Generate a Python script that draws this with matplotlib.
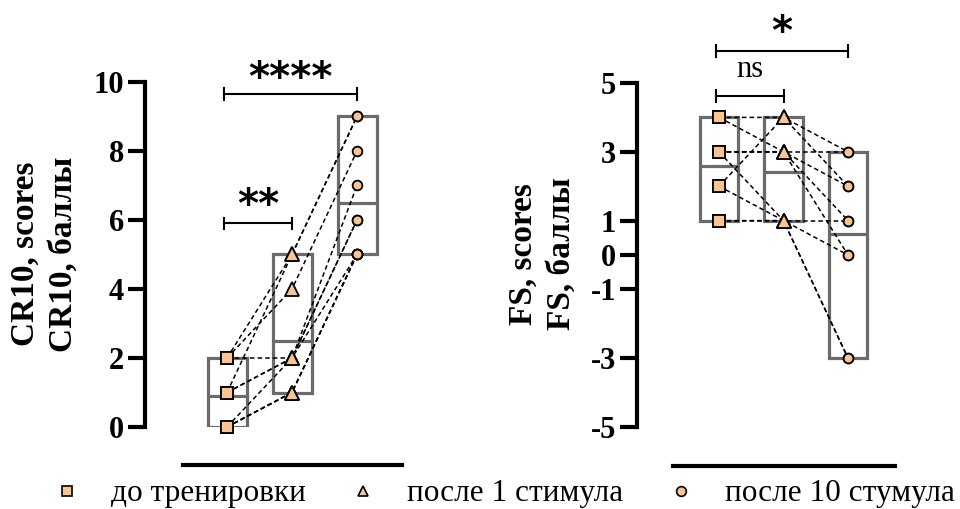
import matplotlib
matplotlib.use('Agg')
import matplotlib.pyplot as plt
from matplotlib.lines import Line2D
import numpy as np

plt.rcParams['font.family'] = ['Liberation Serif', 'DejaVu Serif']

# groups
groups = ['до тренировки', 'после 1 стимула', 'после 10 стумула']
markers = ['s', '^', 'o']

# CR10 scores per subject: before, after 1, after 10
cr10_before = [2, 2, 2, 1, 1, 1, 0, 0, 0, 0]
cr10_after1 = [5, 2, 4, 2, 5, 2, 1, 2, 1, 1]
cr10_after10 = [9, 5, 8, 6, 9, 7, 5, 6, 5, 5]

# FS scores per subject
fs_before = [4, 4, 3, 3, 2, 2, 1, 1, 3, 3]
fs_after1 = [4, 3, 3, 1, 4, 1, 1, 1, 3, 3]
fs_after10 = [3, 1, 3, -3, 2, 0, 1, -3, 2, 0]

cr10_ticks = [0, 2, 4, 6, 8, 10]
fs_ticks = [-5, -3, -1, 0, 1, 3, 5]

fill = '#F8C592'
box_col = '#6B6B6B'

W, H = 960, 509
fig = plt.figure(figsize=(9.6, 5.09), dpi=100)


def panel(rect, data, ylim, ticks, xlim, spine_out, label, label_x, brackets):
    ax = fig.add_axes(rect)
    # spines first: set_position resets the tick formatting
    for s in ['top', 'right']:
        ax.spines[s].set_visible(False)
    ax.spines['left'].set_position(('outward', spine_out[0]))
    ax.spines['bottom'].set_position(('outward', spine_out[1]))
    ax.spines['left'].set_bounds(ylim[0], ylim[1])
    ax.spines['left'].set_linewidth(3)
    ax.spines['bottom'].set_linewidth(3)
    ax.patch.set_visible(False)

    arr = np.array(data)
    x = np.arange(3)
    # floating bars min..max with line at mean
    mins, maxs, means = arr.min(axis=1), arr.max(axis=1), arr.mean(axis=1)
    ax.bar(x, maxs - mins, bottom=mins, width=0.6, fill=False,
           edgecolor=box_col, linewidth=2.3, zorder=2)
    ax.hlines(means, x - 0.3, x + 0.3, color=box_col, linewidth=2.3, zorder=2)
    # paired lines
    for subj in arr.T:
        ax.plot(x, subj, color='black', linestyle=(0, (3, 2)), linewidth=1.1,
                zorder=3, clip_on=False)
    sizes = [9, 10, 7]
    for i in range(3):
        ax.plot(np.full(arr.shape[1], i), arr[i], linestyle='none', marker=markers[i],
                markersize=sizes[i], markerfacecolor=fill, markeredgecolor='black',
                markeredgewidth=1.3, zorder=4, clip_on=False)
    ax.set_xlim(*xlim)
    ax.set_ylim(*ylim)
    ax.set_xticks([])
    ax.set_yticks(ticks)
    ax.set_yticklabels([str(t) for t in ticks], fontsize=22, fontweight='bold')
    ax.tick_params(axis='y', length=12, width=3, pad=3)

    # significance brackets
    for x0, x1, yb, txt, ty, tfont in brackets:
        ax.plot([x0, x1], [yb, yb], color='black', linewidth=1.5, clip_on=False)
        h = (ylim[1] - ylim[0]) * 0.017
        for xx in (x0, x1):
            ax.plot([xx, xx], [yb - h, yb + h], color='black', linewidth=1.5, clip_on=False)
        if tfont == 'ns':
            ax.text((x0 + x1) / 2, ty, txt, ha='center', va='center', fontsize=22,
                    clip_on=False)
        else:
            ax.text((x0 + x1) / 2, ty, txt, ha='center', va='center', fontsize=29,
                    fontweight='bold', family='DejaVu Sans', clip_on=False)
    fig.text(label_x / W, 1 - 254 / H, label, rotation=90, ha='center', va='center',
             fontsize=24, fontweight='bold', linespacing=1.3, multialignment='center')
    return ax


panel([183 / W, (H - 427) / H, (402 - 183) / W, (427 - 82) / H],
      [cr10_before, cr10_after1, cr10_after10], (0, 10), cr10_ticks,
      ((183 - 227) / 65, (402 - 227) / 65), (27.4, 27.4),
      'CR10, scores\nCR10, баллы', 44,
      [(-0.05, 1.0, 5.9, '**', 6.4, 'ast'),
       (-0.05, 2.0, 9.65, '****', 10.1, 'ast')])

panel([673 / W, (H - 427) / H, (895 - 673) / W, (427 - 83) / H],
      [fs_before, fs_after1, fs_after10], (-5, 5), fs_ticks,
      ((673 - 719) / 64.5, (895 - 719) / 64.5), (26, 28),
      'FS, scores\nFS, баллы', 542,
      [(-0.05, 1.0, 4.62, 'ns', 5.4, 'ns'),
       (-0.05, 2.0, 5.93, '*', 6.45, 'ast')])

handles = [Line2D([], [], linestyle='none', marker=m, markersize=7, markerfacecolor=fill,
                  markeredgecolor='black', markeredgewidth=1.2) for m in markers]
fig.legend(handles, groups, loc='center', bbox_to_anchor=(503 / W, 1 - 494 / H), ncol=3,
           frameon=False, fontsize=22.5, handlelength=1.0, handletextpad=0.92,
           columnspacing=1.33, borderpad=0)

fig.savefig('out.png', dpi=100)
